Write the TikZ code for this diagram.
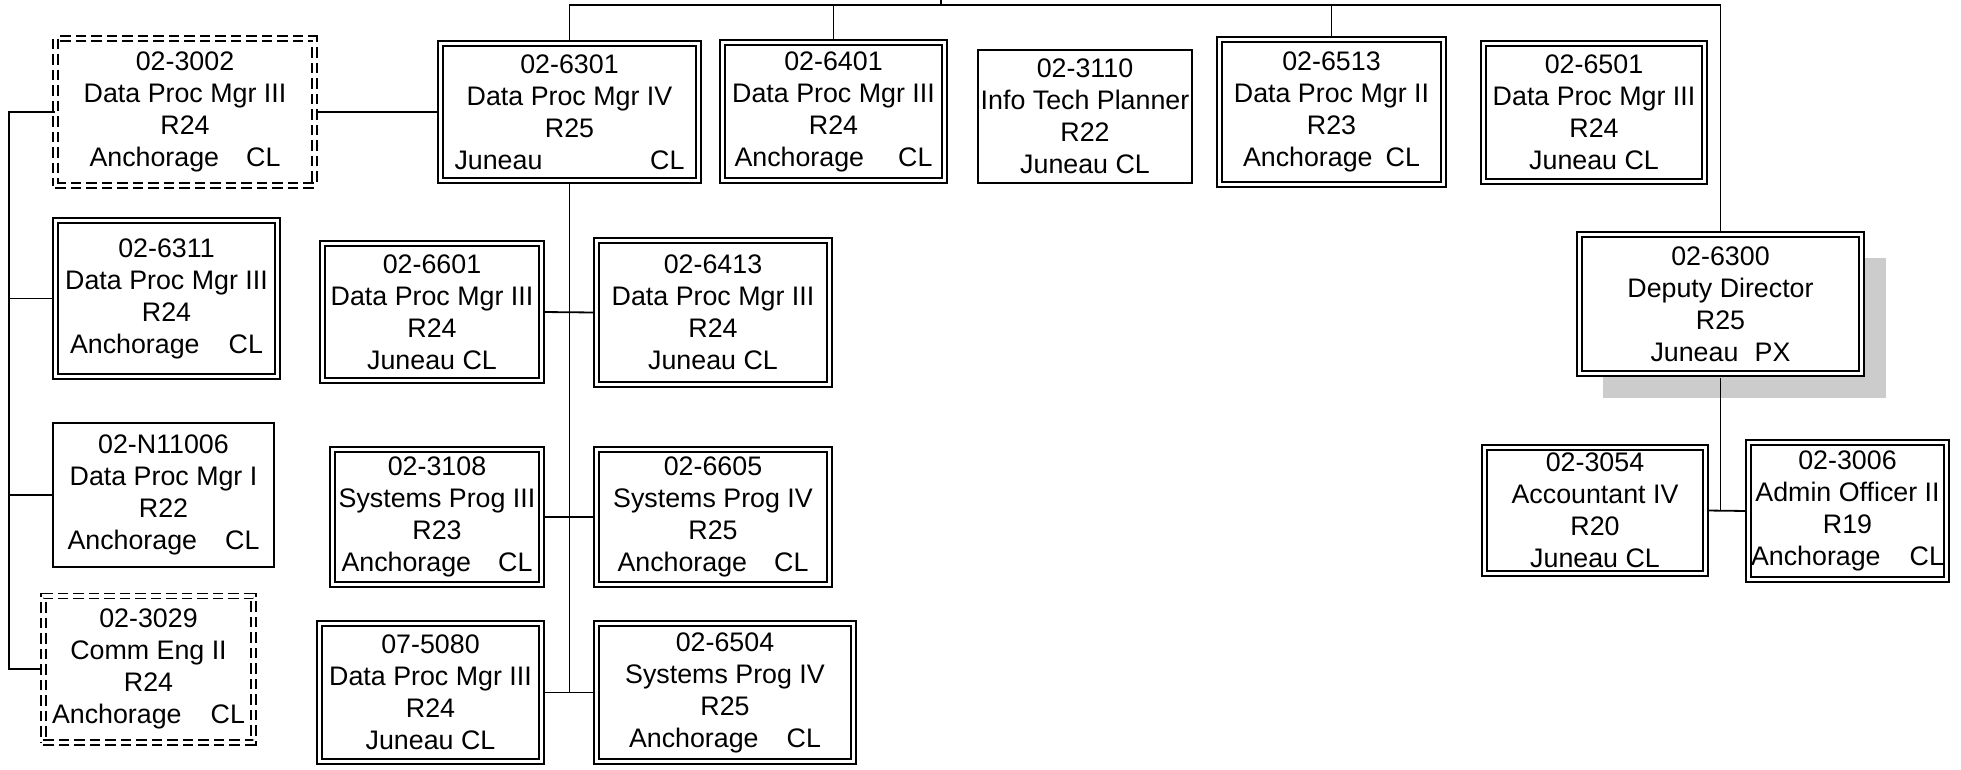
\documentclass[tikz,border=0pt]{standalone}
\usepackage{fontspec}
\setmainfont{Liberation Sans}
\usepackage{tikz}
\usetikzlibrary{backgrounds, shadows}

\newcommand{\lrline}[3]{\makebox[#1]{#2\hfill #3}}

\begin{document}
\begin{tikzpicture}[
    x=1pt, y=-1pt,
    every node/.style={font=\fontsize{26.8}{32}\selectfont},
    post/.style={rectangle, draw, line width=1.6pt, double, double distance=3.4pt, fill=white, inner sep=0pt, align=center},
    vacant/.style={post, dash pattern=on 10.5pt off 5pt},
    solo/.style={rectangle, draw, line width=1.8pt, fill=white, inner sep=0pt, align=center},
    link/.style={line width=1.8pt}
]
\useasboundingbox (0,0) rectangle (1961,769);

% top row
\node[vacant, minimum width=259.4pt, minimum height=147.4pt] (b3002) at (185,112) {02-3002\\Data Proc Mgr III\\R24\\\lrline{191pt}{Anchorage}{CL}};
\node[post, minimum width=258.4pt, minimum height=137.4pt] (b6301) at (569.5,112) {02-6301\\Data Proc Mgr IV\\R25\\\lrline{230pt}{Juneau}{CL}};
\node[post, minimum width=222.4pt, minimum height=138.4pt] (b6401) at (833.5,111.5) {02-6401\\Data Proc Mgr III\\R24\\\lrline{198pt}{Anchorage}{CL}};
\node[solo, minimum width=214.2pt, minimum height=133.2pt] (b3110) at (1085,116.5) {02-3110\\Info Tech Planner\\R22\\Juneau CL};
\node[post, minimum width=224.4pt, minimum height=145.4pt] (b6513) at (1331.5,112) {02-6513\\Data Proc Mgr II\\R23\\\lrline{177pt}{Anchorage}{CL}};
\node[post, minimum width=221.4pt, minimum height=138.4pt] (b6501) at (1594,112.5) {02-6501\\Data Proc Mgr III\\R24\\Juneau CL};

% deputy and staff
\node[post, minimum width=282.4pt, minimum height=139.4pt, drop shadow={shadow xshift=24pt, shadow yshift=-24pt, fill=black!20, opacity=1}] (bDeputy) at (1720.5,304) {02-6300\\Deputy Director\\R25\\\lrline{140pt}{Juneau}{PX}};
\node[post, minimum width=221.4pt, minimum height=126.4pt] (b3054) at (1595,510.5) {02-3054\\Accountant IV\\R20\\Juneau CL};
\node[post, minimum width=198.4pt, minimum height=137.4pt] (b3006) at (1847.5,511) {02-3006\\Admin Officer II\\R19\\\lrline{193pt}{Anchorage}{CL}};

% left column
\node[post, minimum width=222.4pt, minimum height=156.4pt] (b6311) at (166.5,298.5) {02-6311\\Data Proc Mgr III\\R24\\\lrline{193pt}{Anchorage}{CL}};
\node[solo, minimum width=221.2pt, minimum height=144.2pt] (bN11006) at (163.5,495) {02-N11006\\Data Proc Mgr I\\R22\\\lrline{192pt}{Anchorage}{CL}};
\node[vacant, minimum width=210.4pt, minimum height=146.4pt] (b3029) at (148.5,669) {02-3029\\Comm Eng II\\R24\\\lrline{193pt}{Anchorage}{CL}};

% under 02-6301
\node[post, minimum width=219.4pt, minimum height=137.4pt] (b6601) at (432,312) {02-6601\\Data Proc Mgr III\\R24\\Juneau CL};
\node[post, minimum width=233.4pt, minimum height=144.4pt] (b6413) at (713,312.5) {02-6413\\Data Proc Mgr III\\R24\\Juneau CL};
\node[post, minimum width=209.4pt, minimum height=135.4pt] (b3108) at (437,517) {02-3108\\Systems Prog III\\R23\\\lrline{191pt}{Anchorage}{CL}};
\node[post, minimum width=233.4pt, minimum height=135.4pt] (b6605) at (713,517) {02-6605\\Systems Prog IV\\R25\\\lrline{191pt}{Anchorage}{CL}};
\node[post, minimum width=222.4pt, minimum height=138.4pt] (b5080) at (430.5,692.5) {07-5080\\Data Proc Mgr III\\R24\\Juneau CL};
\node[post, minimum width=257.4pt, minimum height=138.4pt] (b6504) at (725,692.5) {02-6504\\Systems Prog IV\\R25\\\lrline{192pt}{Anchorage}{CL}};

% connectors
\begin{scope}[on background layer]
\coordinate (head) at (941,0);
\coordinate (bus) at (941,5);
\coordinate (spine) at (9,0);
\draw[link] (head) -- (bus);
\draw[link] (b6301.north) |- (bus) -| (bDeputy.north);
\draw[link] (b6401.north) -- (b6401.north |- bus);
\draw[link] (b6513.north) -- (b6513.north |- bus);
\draw[link] (b6301.west) -- (b3002.east);
\draw[link] (b3002.west) -| (spine |- b3029.west) -- (b3029.west);
\draw[link] (b6311.west) -- (spine |- b6311.west);
\draw[link] (bN11006.west) -- (spine |- bN11006.west);
\draw[link] (b6301.south) -- (b6301.south |- b5080.east);
\draw[link] (b6601.east) -- (b6413.west);
\draw[link] (b3108.east) -- (b6605.west);
\draw[link] (b5080.east) -- (b6504.west);
\draw[link] (b3054.east) -- (b3006.west);
\end{scope}
\draw[link, shorten <=3.3pt] (bDeputy.south) -- (bDeputy.south |- b3054.east);
\end{tikzpicture}
\end{document}
